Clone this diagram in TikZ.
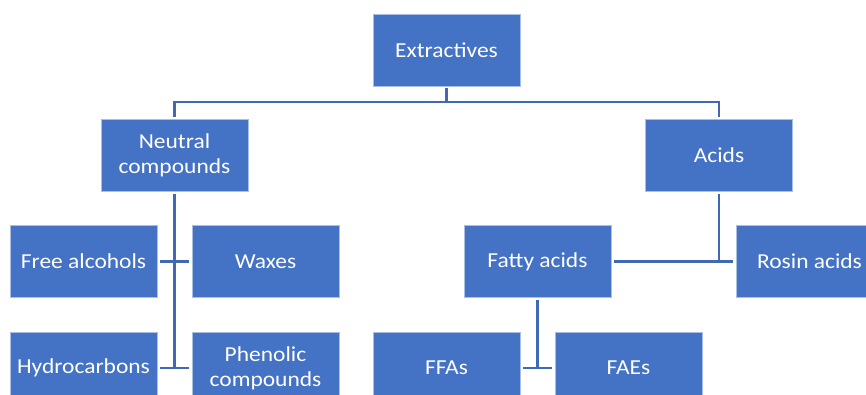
\documentclass[tikz,border=0pt]{standalone}
\usepackage{fontspec}
\setmainfont[FakeStretch=1.1]{Carlito}
\definecolor{boxblue}{HTML}{4472C4}
\definecolor{edgeblue}{HTML}{A9BEE4}
\definecolor{linkblue}{HTML}{3F68B5}
\begin{document}
\begin{tikzpicture}[x=0.75pt,y=-0.75pt,
  cat/.style={rectangle, fill=boxblue, draw=edgeblue, line width=0.6pt,
    minimum width=110.25pt, minimum height=54pt, inner sep=0pt,
    text=white, align=center, font=\fontsize{16pt}{18.5pt}\selectfont},
  link/.style={draw=linkblue, line width=1.7pt}]
\useasboundingbox (0,0) rectangle (866,394);
\clip (0,0) rectangle (866,394);

% boxes
\node[cat] (ext)   at (446.5,50)   {Extractives};
\node[cat] (neu)   at (174.5,155.5) {Neutral\\compounds};
\node[cat] (acid)  at (719,155.5)  {Acids};
\node[cat] (alc)   at (83.5,261.5) {Free alcohols};
\node[cat] (wax)   at (265.5,261.5) {Waxes};
\node[cat] (fatty) at (537.5,261.5) {Fatty acids};
\node[cat] (rosin) at (809.5,261.5) {Rosin acids};
\node[cat] (hyd)   at (83.5,368)   {Hydrocarbons};
\node[cat] (phen)  at (265.5,368)  {Phenolic\\compounds};
\node[cat] (ffa)   at (446.5,368)  {FFAs};
\node[cat] (fae)   at (628.5,368)  {FAEs};

% top-level split
\coordinate (bus) at (446.5,102);
\draw[link] ([yshift=-1.5pt]ext.south) -- (bus);
\draw[link] ([yshift=1.5pt]neu.north) |- (bus) -| ([yshift=1.5pt]acid.north);

% neutral compounds
\draw[link] ([yshift=-1.5pt]neu.south) -- (neu.south |- hyd.east);
\draw[link] ([xshift=2.25pt]alc.east) -- ([xshift=-2.25pt]wax.west);
\draw[link] ([xshift=2.25pt]hyd.east) -- ([xshift=-2.25pt]phen.west);

% acids
\draw[link] ([yshift=-1.5pt]acid.south) -- (acid.south |- rosin.west);
\draw[link] ([xshift=2.25pt]fatty.east) -- ([xshift=-2.25pt]rosin.west);
\draw[link] ([yshift=-1.5pt]fatty.south) -- (fatty.south |- ffa.east);
\draw[link] ([xshift=2.25pt]ffa.east) -- ([xshift=-2.25pt]fae.west);
\end{tikzpicture}
\end{document}
